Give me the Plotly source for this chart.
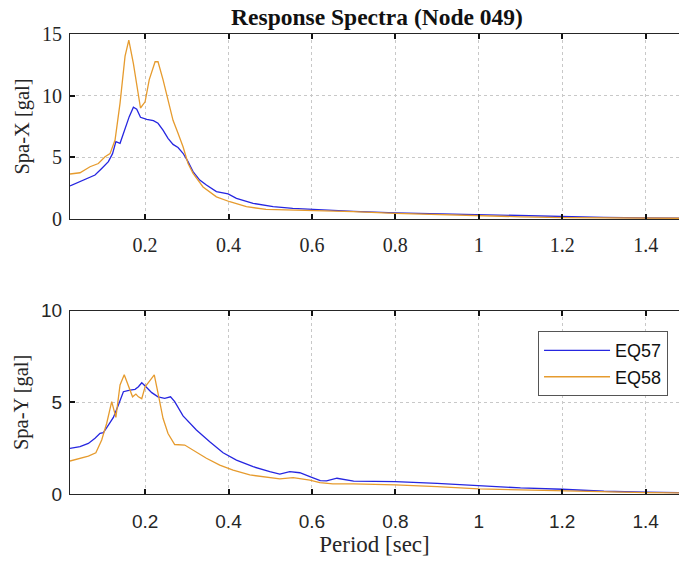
import plotly.graph_objects as go

# ---- data ----
x_top57 = [0.02,0.044,0.06,0.08,0.096,0.112,0.122,0.13,0.14,0.152,0.162,0.172,0.18,0.189,0.204,0.22,0.231,0.243,0.255,0.267,0.279,0.291,0.303,0.315,0.331,0.347,0.371,0.399,0.419,0.459,0.507,0.554,0.595,0.65,0.7,0.8,0.9,1.0,1.1,1.2,1.3,1.4,1.48]
spa_x57 = [2.68,3.03,3.3,3.57,4.1,4.65,5.3,6.27,6.14,7.35,8.3,9.06,8.9,8.25,8.08,7.97,7.76,7.2,6.54,6.05,5.8,5.33,4.65,3.84,3.16,2.76,2.22,2.03,1.68,1.27,1.0,0.87,0.79,0.7,0.62,0.5,0.42,0.35,0.27,0.2,0.14,0.1,0.07]

x_top58 = [0.02,0.044,0.068,0.088,0.104,0.116,0.128,0.14,0.152,0.161,0.172,0.181,0.189,0.2,0.21,0.224,0.231,0.243,0.255,0.267,0.279,0.291,0.303,0.315,0.339,0.371,0.403,0.443,0.49,0.554,0.6,0.7,0.8,0.9,1.0,1.1,1.2,1.3,1.4,1.48]
spa_x58 = [3.65,3.75,4.24,4.5,5.05,5.3,6.4,9.4,13.2,14.5,12.6,10.5,9.0,9.5,11.3,12.75,12.75,11.3,9.65,8.0,6.95,5.86,4.5,3.7,2.6,1.8,1.4,1.0,0.78,0.73,0.7,0.6,0.45,0.35,0.25,0.18,0.12,0.1,0.08,0.06]

x_bot57 = [0.02,0.044,0.064,0.08,0.092,0.1,0.112,0.124,0.136,0.148,0.164,0.176,0.184,0.192,0.202,0.216,0.231,0.247,0.261,0.271,0.291,0.323,0.355,0.387,0.419,0.459,0.499,0.523,0.547,0.571,0.595,0.62,0.635,0.66,0.7,0.75,0.8,0.9,1.0,1.1,1.2,1.3,1.4,1.48]
spa_y57 = [2.49,2.58,2.76,3.04,3.31,3.35,3.76,4.18,4.86,5.58,5.67,5.71,5.85,6.07,5.85,5.53,5.3,5.22,5.3,5.04,4.26,3.49,2.85,2.25,1.85,1.49,1.22,1.09,1.22,1.16,0.95,0.73,0.72,0.86,0.7,0.68,0.68,0.58,0.45,0.33,0.26,0.15,0.1,0.07]

x_bot58 = [0.02,0.044,0.064,0.082,0.096,0.108,0.12,0.13,0.14,0.15,0.16,0.17,0.178,0.184,0.192,0.2,0.212,0.222,0.231,0.243,0.255,0.271,0.295,0.315,0.347,0.379,0.411,0.451,0.491,0.523,0.555,0.579,0.595,0.619,0.65,0.7,0.8,0.9,1.0,1.1,1.2,1.3,1.4,1.48]
spa_y58 = [1.8,1.95,2.07,2.25,2.95,3.86,5.04,4.18,5.95,6.5,5.95,5.3,5.45,5.3,5.2,5.85,6.2,6.5,5.5,4.13,3.3,2.7,2.67,2.4,1.95,1.58,1.3,1.04,0.9,0.83,0.89,0.83,0.76,0.62,0.55,0.55,0.5,0.4,0.28,0.22,0.16,0.12,0.08,0.06]

x_ticks = [0.2, 0.4, 0.6, 0.8, 1.0, 1.2, 1.4]
x_ticktext = ["0.2", "0.4", "0.6", "0.8", "1", "1.2", "1.4"]
series_names = ["EQ57", "EQ58"]

BLUE = "#2626E0"
ORANGE = "#E69B2E"
SERIF = "Liberation Serif"
SANS = "Liberation Sans"
TXT = "#262626"
LW = 1.3

fig = go.Figure()
fig.add_trace(go.Scatter(x=x_top57, y=spa_x57, mode="lines", line=dict(color=BLUE, width=LW),
                         name=series_names[0], showlegend=False, xaxis="x", yaxis="y"))
fig.add_trace(go.Scatter(x=x_top58, y=spa_x58, mode="lines", line=dict(color=ORANGE, width=LW),
                         name=series_names[1], showlegend=False, xaxis="x", yaxis="y"))
fig.add_trace(go.Scatter(x=x_bot57, y=spa_y57, mode="lines", line=dict(color=BLUE, width=LW),
                         name=series_names[0], xaxis="x2", yaxis="y2"))
fig.add_trace(go.Scatter(x=x_bot58, y=spa_y58, mode="lines", line=dict(color=ORANGE, width=LW),
                         name=series_names[1], xaxis="x2", yaxis="y2"))

common_x = dict(range=[0.02, 1.48], tickvals=x_ticks, ticktext=x_ticktext,
                showline=True, linecolor=TXT, linewidth=1, mirror="ticks",
                ticks="inside", ticklen=5, tickwidth=1.5, tickcolor="#111111",
                showgrid=True, gridcolor="#c8c8c8", griddash="dot", gridwidth=1,
                zeroline=False, automargin=False)
common_y = dict(showline=True, linecolor=TXT, linewidth=1,
                ticks="inside", ticklen=5, tickwidth=1.5, tickcolor="#111111",
                showgrid=True, gridcolor="#c8c8c8", griddash="dot", gridwidth=1,
                zeroline=False, automargin=False)

fig.update_layout(
    width=679, height=561,
    margin=dict(l=70, r=0, t=34, b=67),
    paper_bgcolor="white", plot_bgcolor="white",
    title=dict(text="<b>Response Spectra (Node 049)</b>", x=377/679, xanchor="center",
               xref="container", y=1-17/561, yanchor="middle", yref="container",
               font=dict(family=SERIF, size=23.5, color="#111111")),
    xaxis=dict(domain=[0, 1], anchor="y", ticklabelstandoff=8,
               tickfont=dict(family=SERIF, size=20, color=TXT), **common_x),
    yaxis=dict(domain=[0.5978, 1], anchor="x", range=[0, 15], tickvals=[0, 5, 10, 15],
               ticklabelstandoff=3,
               tickfont=dict(family=SERIF, size=20, color=TXT),
               title=dict(text="Spa-X [gal]", standoff=6, font=dict(family=SERIF, size=20.5, color=TXT)),
               **common_y),
    xaxis2=dict(domain=[0, 1], anchor="y2", ticklabelstandoff=10,
                tickfont=dict(family=SANS, size=19, color=TXT),
                title=dict(text="Period [sec]", standoff=5, font=dict(family=SERIF, size=23, color=TXT)),
                **common_x),
    yaxis2=dict(domain=[0, 0.3985], anchor="x2", range=[0, 10], tickvals=[0, 5, 10],
                ticklabelstandoff=3,
                tickfont=dict(family=SANS, size=19, color=TXT),
                title=dict(text="Spa-Y [gal]", standoff=6, font=dict(family=SERIF, size=20.5, color=TXT)),
                **common_y),
    legend=dict(x=0.982, xanchor="right", y=0.354, yanchor="top",
                bgcolor="white", bordercolor="#555555", borderwidth=1,
                font=dict(family=SANS, size=18, color="#111111"),
                itemwidth=66, tracegroupgap=0),
    showlegend=True,
)

fig.write_html("out.html")
